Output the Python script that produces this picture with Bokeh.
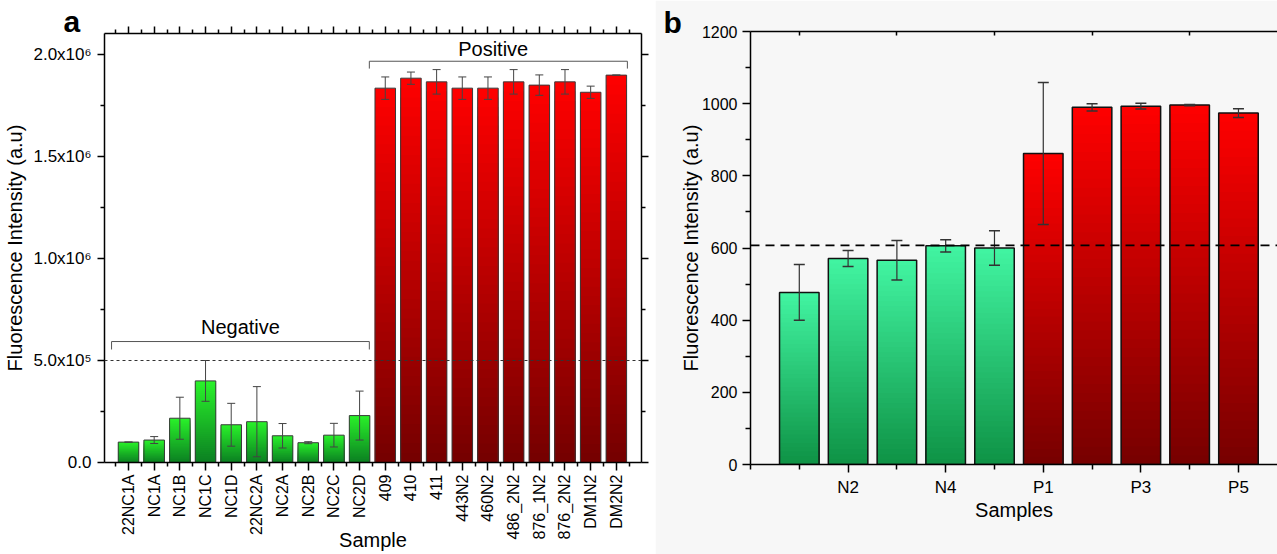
import numpy as np
from bokeh.plotting import figure
from bokeh.layouts import row, column
from bokeh.models import (ColumnDataSource, Whisker, TeeHead, LinearAxis, FixedTicker,
                          Range1d, Span, Label, Title)
from bokeh.embed import file_html
from bokeh.resources import INLINE

FONT = "Liberation Sans"

# ---------------- Panel a data ----------------
a_categories = ["22NC1A", "NC1A", "NC1B", "NC1C", "NC1D", "22NC2A", "NC2A", "NC2B", "NC2C", "NC2D",
                "409", "410", "411", "443N2", "460N2", "486_2N2", "876_1N2", "876_2N2", "DM1N2", "DM2N2"]
a_values = [1.0e5, 1.1e5, 2.17e5, 4.0e5, 1.85e5, 2.0e5, 1.31e5, 0.97e5, 1.34e5, 2.3e5,
            1.835e6, 1.884e6, 1.866e6, 1.835e6, 1.835e6, 1.866e6, 1.85e6, 1.866e6, 1.815e6, 1.899e6]
a_errors = [0.0, 0.17e5, 1.03e5, 1.0e5, 1.05e5, 1.72e5, 0.6e5, 0.05e5, 0.58e5, 1.2e5,
            0.055e6, 0.03e6, 0.06e6, 0.055e6, 0.055e6, 0.06e6, 0.05e6, 0.06e6, 0.03e6, 0.0]
a_groups = ["Negative"] * 10 + ["Positive"] * 10
a_threshold = 5.0e5
a_ytick_values = [0, 5e5, 1e6, 1.5e6, 2e6]
a_ytick_labels = ["0.0", "5.0x10\u2075", "1.0x10\u2076", "1.5x10\u2076", "2.0x10\u2076"]

# ---------------- Panel b data ----------------
b_categories = ["N1", "N2", "N3", "N4", "N5", "P1", "P2", "P3", "P4", "P5"]
b_values = [477, 571, 566, 606, 600, 862, 990, 993, 996, 974]
b_errors = [77, 22, 55, 17, 48, 197, 10, 8, 2, 12]
b_groups = ["N"] * 5 + ["P"] * 5
b_threshold = 607
b_ytick_values = [0, 200, 400, 600, 800, 1000, 1200]


def hex2rgb(h):
    h = h.lstrip("#")
    return tuple(int(h[i:i + 2], 16) for i in (0, 2, 4))


def mix(c0, c1, t):
    a, b = hex2rgb(c0), hex2rgb(c1)
    return "#%02x%02x%02x" % tuple(int(round(a[i] + (b[i] - a[i]) * t)) for i in range(3))


def gradient_bars(p, xs, vals, groups, palette, width, n=40):
    # nested bars from full height to shortest, top colour first -> vertical gradient
    data = dict(x=[], top=[], color=[])
    for k in range(n):
        frac = 1 - k / n
        t = (n - k - 0.5) / n
        for x, v, g in zip(xs, vals, groups):
            bottom_c, top_c = palette[g]
            data["x"].append(x)
            data["top"].append(v * frac)
            data["color"].append(mix(bottom_c, top_c, t))
    p.vbar(x="x", top="top", bottom=0, width=width, fill_color="color",
           line_color=None, source=ColumnDataSource(data))


def style_axis(ax, label_size):
    ax.axis_line_color = "black"
    ax.axis_line_width = 1.5
    ax.major_tick_line_color = "black"
    ax.major_tick_line_width = 1.5
    ax.minor_tick_line_color = "black"
    ax.minor_tick_line_width = 1.5
    ax.major_label_text_font = FONT
    ax.major_label_text_font_size = label_size
    ax.major_label_text_color = "black"
    ax.axis_label_text_font = FONT
    ax.axis_label_text_font_size = "20px"
    ax.axis_label_text_font_style = "normal"
    ax.axis_label_text_color = "black"


def hide_labels(ax):
    ax.major_label_text_color = None
    ax.major_label_text_font_size = "1px"
    ax.major_label_standoff = 0


# =============== Panel a ===============
a_x = list(range(1, len(a_categories) + 1))
pa = figure(width=655, height=554, output_backend="svg", toolbar_location=None,
            x_range=Range1d(0.065, 20.98), y_range=Range1d(0, 2.103e6),
            min_border_left=104, min_border_right=14, min_border_top=33, min_border_bottom=92)
pa.grid.visible = False
pa.outline_line_color = None
pa.background_fill_color = "white"

a_palette = {"Negative": ("#0b7f22", "#2af22a"), "Positive": ("#740000", "#ff0000")}
gradient_bars(pa, a_x, a_values, a_groups, a_palette, 0.8)
pa.vbar(x=a_x, top=a_values, bottom=0, width=0.8, fill_color=None,
        line_color="#3a3a3a", line_width=1)

a_src = ColumnDataSource(dict(base=a_x,
                              upper=[v + e for v, e in zip(a_values, a_errors)],
                              lower=[v - e for v, e in zip(a_values, a_errors)]))
wa = Whisker(base="base", upper="upper", lower="lower", source=a_src,
             line_color="#444444", line_width=1,
             upper_head=TeeHead(size=8, line_color="#444444", line_width=1),
             lower_head=TeeHead(size=8, line_color="#444444", line_width=1))
wa.level = "overlay"
pa.add_layout(wa)

pa.add_layout(Span(location=a_threshold, dimension="width", line_color="#333333",
                   line_width=1, line_dash="3 3", level="overlay"))

# group brackets
n_neg = a_groups.count("Negative")
neg_l, neg_r = 1 - 0.66, n_neg + 0.38
pos_l, pos_r = n_neg + 0.38, len(a_categories) + 0.43
pa.line([neg_l, neg_l, neg_r, neg_r], [5.54e5, 5.93e5, 5.93e5, 5.54e5], line_color="#555555", line_width=1)
pa.line([pos_l, pos_l, pos_r, pos_r], [1.931e6, 1.967e6, 1.967e6, 1.931e6], line_color="#555555", line_width=1)
pa.add_layout(Label(x=(neg_l + neg_r) / 2, y=6.62e5, text="Negative", text_align="center",
                    text_baseline="middle", text_font=FONT, text_font_size="20px", text_color="black"))
pa.add_layout(Label(x=(pos_l + pos_r) / 2 - 0.2, y=2.027e6, text="Positive", text_align="center",
                    text_baseline="middle", text_font=FONT, text_font_size="20px", text_color="black"))

# axes a
xa = pa.xaxis[0]
style_axis(xa, "16px")
xa.ticker = FixedTicker(ticks=a_x, minor_ticks=[i + 0.5 for i in range(0, len(a_x) + 1)])
xa.major_label_overrides = {i: c for i, c in zip(a_x, a_categories)}
xa.major_label_orientation = np.pi / 2
xa.major_tick_out, xa.major_tick_in = 8, 0
xa.minor_tick_out, xa.minor_tick_in = 4, 0
xa.major_label_standoff = 4
xa.axis_label = "Sample"
xa.axis_label_standoff = -13

ya = pa.yaxis[0]
style_axis(ya, "17px")
ya.ticker = FixedTicker(ticks=a_ytick_values, minor_ticks=[2.5e5, 7.5e5, 1.25e6, 1.75e6])
ya.major_label_overrides = {v: l for v, l in zip(a_ytick_values, a_ytick_labels)}
ya.axis_label = "Fluorescence Intensity (a.u)"
ya.axis_label_standoff = 4
ya.major_tick_out, ya.major_tick_in = 7, 0
ya.minor_tick_out, ya.minor_tick_in = 4, 0
ya.major_label_standoff = 6

top_a = LinearAxis(ticker=FixedTicker(ticks=a_x, minor_ticks=[i + 0.5 for i in range(0, len(a_x) + 1)]))
style_axis(top_a, "16px")
hide_labels(top_a)
top_a.major_tick_out, top_a.major_tick_in = 7, 0
top_a.minor_tick_out, top_a.minor_tick_in = 4, 0
pa.add_layout(top_a, "above")

right_a = LinearAxis(ticker=FixedTicker(ticks=a_ytick_values, minor_ticks=[2.5e5, 7.5e5, 1.25e6, 1.75e6]))
style_axis(right_a, "16px")
hide_labels(right_a)
right_a.major_tick_out, right_a.major_tick_in = 7, 0
right_a.minor_tick_out, right_a.minor_tick_in = 4, 0
pa.add_layout(right_a, "right")

pa.add_layout(Title(text="a", align="left", offset=-41, standoff=-23, vertical_align="bottom",
                    text_font=FONT, text_font_size="30px", text_font_style="bold",
                    text_color="black"), "above")

# =============== Panel b ===============
b_x = list(range(1, len(b_categories) + 1))
BG = "#f7f7f7"
pb = figure(width=622, height=554, output_backend="svg", toolbar_location=None,
            x_range=Range1d(0, 10.8), y_range=Range1d(0, 1200),
            min_border_left=95, min_border_right=0, min_border_top=31, min_border_bottom=90)
pb.grid.visible = False
pb.outline_line_color = None
pb.background_fill_color = BG
pb.border_fill_color = BG

b_palette = {"N": ("#0e9245", "#42f5a2"), "P": ("#760000", "#ff0000")}
gradient_bars(pb, b_x, b_values, b_groups, b_palette, 0.81)
pb.vbar(x=b_x, top=b_values, bottom=0, width=0.81, fill_color=None,
        line_color="#111111", line_width=1.5)

b_src = ColumnDataSource(dict(base=b_x,
                              upper=[v + e for v, e in zip(b_values, b_errors)],
                              lower=[v - e for v, e in zip(b_values, b_errors)]))
wb = Whisker(base="base", upper="upper", lower="lower", source=b_src,
             line_color="#333333", line_width=1.2,
             upper_head=TeeHead(size=11, line_color="#333333", line_width=1.5),
             lower_head=TeeHead(size=11, line_color="#333333", line_width=1.5))
wb.level = "overlay"
pb.add_layout(wb)

pb.add_layout(Span(location=b_threshold, dimension="width", line_color="black",
                   line_width=1.8, line_dash="9 6", level="overlay"))

xb = pb.xaxis[0]
style_axis(xb, "17px")
major_b = [x for x in b_x if x % 2 == 0]
xb.ticker = FixedTicker(ticks=major_b, minor_ticks=[0] + [x for x in b_x if x % 2 == 1])
xb.major_label_overrides = {x: c for x, c in zip(b_x, b_categories) if x % 2 == 0}
xb.axis_label = "Samples"
xb.axis_label_standoff = -1
xb.major_tick_out, xb.major_tick_in = 8, 0
xb.minor_tick_out, xb.minor_tick_in = 5, 0
xb.major_label_standoff = 5

yb = pb.yaxis[0]
style_axis(yb, "16px")
yb.ticker = FixedTicker(ticks=b_ytick_values, minor_ticks=[100, 300, 500, 700, 900, 1100])
yb.axis_label = "Fluorescence Intensity (a.u)"
yb.axis_label_standoff = -3
yb.major_tick_out, yb.major_tick_in = 8, 0
yb.minor_tick_out, yb.minor_tick_in = 5, 0
yb.major_label_standoff = 5

top_b = LinearAxis(ticker=FixedTicker(ticks=[x for x in b_x if x % 2 == 1], minor_ticks=[]))
style_axis(top_b, "16px")
hide_labels(top_b)
top_b.major_tick_out, top_b.major_tick_in = 0, 4
pb.add_layout(top_b, "above")

pb.add_layout(Title(text="b", align="left", offset=-87, standoff=-15, vertical_align="bottom",
                    text_font=FONT, text_font_size="30px", text_font_style="bold",
                    text_color="black"), "above")

layout = row(column(pa), column(pb))
open("out.html", "w").write(file_html(layout, INLINE))
